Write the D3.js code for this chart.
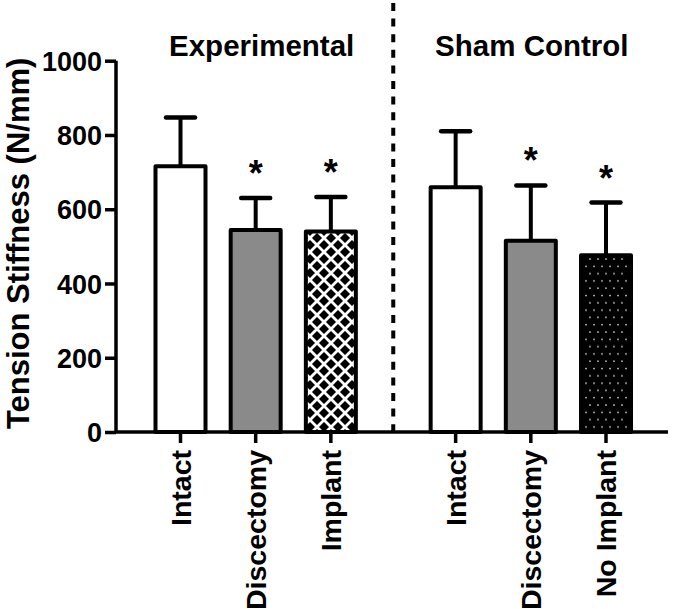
<!DOCTYPE html>
<html>
<head>
<meta charset="utf-8">
<script src="https://cdn.jsdelivr.net/npm/d3@7"></script>
<style>
  html, body { margin: 0; padding: 0; background: #fff; }
  svg { display: block; }
  text { font-family: "Liberation Sans", Arial, Helvetica, sans-serif; font-weight: bold; fill: #000; }
</style>
</head>
<body>
<svg id="chart" width="675" height="609"></svg>
<script>
// ---- data ----
const groups = ["Experimental", "Sham Control"];
const categories = ["Intact", "Discectomy", "Implant", "Intact", "Discectomy", "No Implant"];
const groupOf = [0, 0, 0, 1, 1, 1];
const means = [716, 544, 540, 659, 515, 476];
const errors = [131, 86, 93, 151, 149, 142];
const significant = [false, true, true, false, true, true];
const fills = ["white", "grey", "crosshatch", "white", "grey", "dots"];
const yTicks = [0, 200, 400, 600, 800, 1000];
const yLabel = "Tension Stiffness (N/mm)";

// ---- layout ----
const svg = d3.select("#chart");
const groupGap = 0.66;
const slot = categories.map((c, i) => i + groupOf[i] * groupGap);
const x = d3.scaleLinear().domain([0, 5 + groupGap]).range([180.5, 606]);
const y = d3.scaleLinear().domain([0, 1000]).range([432, 60.7]);
const barW = 50;
const axisX = 116;
const axisRight = 668;

// patterns
const defs = svg.append("defs");
const T = 14;
const ch = defs.append("pattern").attr("id", "crosshatch").attr("patternUnits", "userSpaceOnUse")
  .attr("width", T).attr("height", T).attr("x", 2).attr("y", 0);
ch.append("rect").attr("width", T).attr("height", T).attr("fill", "#000");
ch.append("path").attr("d", `M-1,-1 L${T + 1},${T + 1} M${T + 1},-1 L-1,${T + 1}`).attr("stroke", "#fff").attr("stroke-width", 2.8);
const dt = defs.append("pattern").attr("id", "dots").attr("patternUnits", "userSpaceOnUse")
  .attr("width", 8).attr("height", 14.6);
dt.append("rect").attr("width", 8).attr("height", 14.6).attr("fill", "#000");
dt.append("circle").attr("cx", 2).attr("cy", 3.5).attr("r", 0.85).attr("fill", "#e8e8e8");
dt.append("circle").attr("cx", 6).attr("cy", 10.8).attr("r", 0.85).attr("fill", "#e8e8e8");

const fillFor = f => f === "white" ? "#fff" : f === "grey" ? "#8a8a8a" : `url(#${f})`;

// dashed separator
const sepX = (x(slot[2]) + x(slot[3])) / 2;
svg.append("line").attr("x1", sepX).attr("x2", sepX).attr("y1", 3).attr("y2", y(0))
  .attr("stroke", "#000").attr("stroke-width", 4).attr("stroke-dasharray", "8,7.6");

// error bars
const eb = svg.append("g");
categories.forEach((c, i) => {
  const cx = x(slot[i]);
  eb.append("line").attr("x1", cx).attr("x2", cx).attr("y1", y(means[i])).attr("y2", y(means[i] + errors[i]))
    .attr("stroke", "#000").attr("stroke-width", 4);
  eb.append("line").attr("x1", cx - 14.5).attr("x2", cx + 14.5)
    .attr("y1", y(means[i] + errors[i])).attr("y2", y(means[i] + errors[i]))
    .attr("stroke", "#000").attr("stroke-width", 4.5).attr("stroke-linecap", "round");
});

// bars
svg.append("g").selectAll("rect").data(categories).join("rect")
  .attr("x", (d, i) => x(slot[i]) - barW / 2)
  .attr("width", barW)
  .attr("y", (d, i) => y(means[i]))
  .attr("height", (d, i) => y(0) - y(means[i]))
  .attr("fill", (d, i) => fillFor(fills[i]))
  .attr("stroke", "#000").attr("stroke-width", 4).attr("stroke-linejoin", "round");

// asterisks
categories.forEach((c, i) => {
  if (!significant[i]) return;
  svg.append("text").attr("x", x(slot[i])).attr("y", y(means[i] + errors[i]) - 12)
    .attr("text-anchor", "middle").style("font-size", "36px").text("*");
});

// y axis
const yAxis = d3.axisLeft(y).tickValues(yTicks).tickSize(11).tickPadding(3).tickFormat(d3.format("d"));
const gy = svg.append("g").attr("transform", `translate(${axisX},0)`).call(yAxis);
gy.select(".domain").attr("stroke-width", 3.5).attr("d", `M0,${y(1000)}V${y(0)}`);
gy.selectAll(".tick line").attr("stroke-width", 3.5);
gy.selectAll(".tick text").style("font-size", "27px").style("font-family", "Liberation Sans, Arial, sans-serif")
  .style("font-weight", "bold").attr("dy", "0.36em");

// x axis
const gx = svg.append("g").attr("transform", `translate(0,${y(0)})`);
gx.append("line").attr("x1", axisX).attr("x2", axisRight).attr("y1", 0).attr("y2", 0)
  .attr("stroke", "#000").attr("stroke-width", 3.5);
categories.forEach((c, i) => {
  const cx = x(slot[i]);
  gx.append("line").attr("x1", cx).attr("x2", cx).attr("y1", 0).attr("y2", 11)
    .attr("stroke", "#000").attr("stroke-width", 3.5);
  gx.append("text").attr("transform", `translate(${cx},18) rotate(-90)`)
    .attr("text-anchor", "end").attr("dy", "0.36em").style("font-size", "28.5px").text(c);
});

// group titles
groups.forEach((g, gi) => {
  const idx = groupOf.map((v, i) => v === gi ? i : -1).filter(v => v >= 0);
  const cx = (x(slot[idx[0]]) + x(slot[idx[idx.length - 1]])) / 2 + (gi === 0 ? 6 : 1);
  svg.append("text").attr("x", cx).attr("y", 56).attr("text-anchor", "middle")
    .style("font-size", "29.5px").text(g);
});

// y label
svg.append("text").attr("transform", `translate(29,${(y(0) + y(1000)) / 2 - 3}) rotate(-90)`)
  .attr("text-anchor", "middle").style("font-size", "31px").text(yLabel);
</script>
</body>
</html>
